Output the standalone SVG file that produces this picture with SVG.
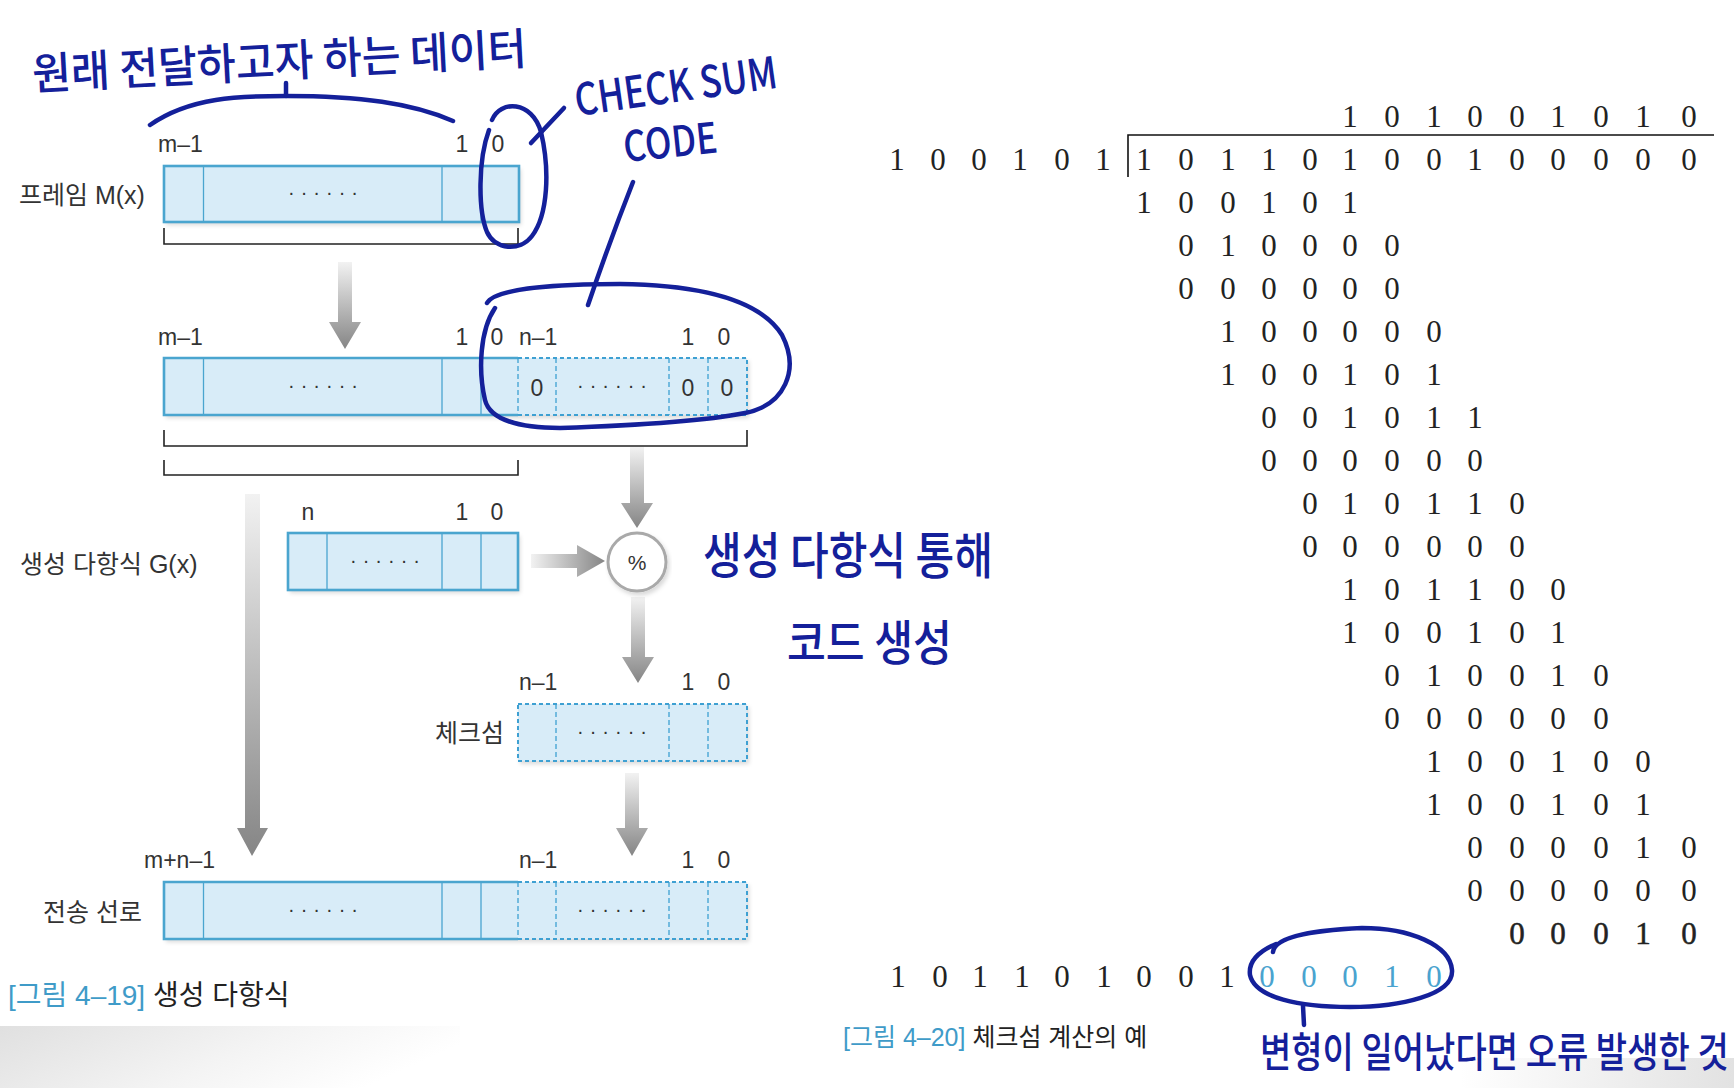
<svg xmlns="http://www.w3.org/2000/svg" width="1734" height="1088" viewBox="0 0 1734 1088">
<defs>
<style>
.bx{fill:#d8ecf8;stroke:none}
.sol{fill:none;stroke:#4aa5cf;stroke-width:2.6}
.dv{stroke:#4aa5cf;stroke-width:1.3}
.dsh{fill:none;stroke:#3ea0d2;stroke-width:2;stroke-dasharray:4 3}
.dshi{stroke:#3ea0d2;stroke-width:1.3;stroke-dasharray:5 3}
.lbl{font-family:"Liberation Sans","Noto Sans CJK KR",sans-serif;font-size:23px;fill:#333}
.kr{font-family:"Liberation Sans","Noto Sans CJK KR",sans-serif;font-size:25px;fill:#333}
.dots{font-family:"Liberation Sans",sans-serif;font-size:20px;fill:#333;letter-spacing:6px;text-anchor:middle}
.mid{text-anchor:middle}
.num{font-family:"Liberation Serif",serif;font-size:31px;fill:#222;text-anchor:middle}
.hand{font-family:"Noto Sans CJK KR",sans-serif;fill:#14209a;font-weight:500}
.ink{fill:none;stroke:#14209a;stroke-width:4.5;stroke-linecap:round;stroke-linejoin:round}
.brk{fill:none;stroke:#222;stroke-width:1.6}
.cap{font-family:"Liberation Sans","Noto Sans CJK KR",sans-serif;fill:#222}
.capb{fill:#3f9bc8}
.arr{stroke:none}
</style>
<linearGradient id="gv" x1="0" y1="0" x2="0" y2="1">
<stop offset="0" stop-color="#f2f2f2"/><stop offset="1" stop-color="#858585"/>
</linearGradient>
<linearGradient id="gh" x1="0" y1="0" x2="1" y2="0">
<stop offset="0" stop-color="#f2f2f2"/><stop offset="1" stop-color="#858585"/>
</linearGradient>
<linearGradient id="gbl" x1="0" y1="0" x2="1" y2="0.3">
<stop offset="0" stop-color="#e0e0e0"/><stop offset="0.6" stop-color="#f4f4f4"/><stop offset="1" stop-color="#ffffff"/>
</linearGradient>
<linearGradient id="gbr" x1="0" y1="0" x2="1" y2="0">
<stop offset="0" stop-color="#ffffff"/><stop offset="1" stop-color="#e2e2e2"/>
</linearGradient>
<filter id="sh" x="-5%" y="-10%" width="115%" height="140%">
<feDropShadow dx="2" dy="3" stdDeviation="2" flood-color="#000" flood-opacity="0.15"/>
</filter>
</defs>

<rect width="1734" height="1088" fill="#ffffff"/>
<rect x="0" y="1026" width="460" height="62" fill="url(#gbl)"/>
<rect x="1460" y="1058" width="274" height="30" fill="url(#gbr)"/>

<!-- connectors -->
<g id="connectors">
<path class="arr" fill="url(#gv)" d="M338,262 H352 V322 H361 L345,349 L329,322 H338 Z"/>
<path class="arr" fill="url(#gv)" d="M630,447 H644 V503 H653 L637,528 L621,503 H630 Z"/>
<path class="arr" fill="url(#gv)" d="M631,597 H645 V657 H654 L638,683 L622,657 H631 Z"/>
<path class="arr" fill="url(#gv)" d="M625,773 H639 V828 H648 L632,856 L616,828 H625 Z"/>
<path class="arr" fill="url(#gv)" d="M245,494 H260 V828 H268 L252,856 L237,828 H245 Z"/>
<path class="arr" fill="url(#gh)" d="M531,554 H577 V545 L605,561 L577,577 V568 H531 Z"/>
</g>

<!-- frame M(x) -->
<g id="frame">
<text class="kr" x="19" y="204">프레임 M(x)</text>
<text class="lbl" x="158" y="152">m–1</text>
<text class="lbl mid" x="462" y="152">1</text>
<text class="lbl mid" x="498" y="152">0</text>
<rect class="bx" x="164" y="166" width="355" height="56" filter="url(#sh)"/>
<rect class="sol" x="164" y="166" width="355" height="56"/>
<line class="dv" x1="203.5" y1="166" x2="203.5" y2="222"/>
<line class="dv" x1="442" y1="166" x2="442" y2="222"/>
<line class="dv" x1="481" y1="166" x2="481" y2="222"/>
<text class="dots" x="326" y="199">······</text>
<path class="brk" d="M164,228 V244 H518 V228"/>
</g>

<!-- shifted frame -->
<g id="shifted">
<text class="lbl" x="158" y="345">m–1</text>
<text class="lbl mid" x="462" y="345">1</text>
<text class="lbl mid" x="497" y="345">0</text>
<text class="lbl" x="519" y="345">n–1</text>
<text class="lbl mid" x="688" y="345">1</text>
<text class="lbl mid" x="724" y="345">0</text>
<rect class="bx" x="164" y="358" width="583" height="57" filter="url(#sh)"/>
<path class="sol" d="M518,358 H164 V415 H518"/>
<line class="dv" x1="203.5" y1="358" x2="203.5" y2="415"/>
<line class="dv" x1="442" y1="358" x2="442" y2="415"/>
<line class="dv" x1="481" y1="358" x2="481" y2="415"/>
<path class="dsh" d="M518,358 H747 V415 H518"/>
<line class="dshi" x1="518" y1="358" x2="518" y2="415"/>
<line class="dshi" x1="556" y1="358" x2="556" y2="415"/>
<line class="dshi" x1="669" y1="358" x2="669" y2="415"/>
<line class="dshi" x1="708" y1="358" x2="708" y2="415"/>
<text class="dots" x="326" y="392">······</text>
<text class="lbl mid" x="537" y="396">0</text>
<text class="dots" x="615" y="392">······</text>
<text class="lbl mid" x="688" y="396">0</text>
<text class="lbl mid" x="727" y="396">0</text>
<path class="brk" d="M164,430 V446 H747 V430"/>
<path class="brk" d="M164,460 V475 H518 V460"/>
</g>

<!-- generator polynomial -->
<g id="generator">
<text class="kr" x="20" y="573">생성 다항식 G(x)</text>
<text class="lbl mid" x="308" y="520">n</text>
<text class="lbl mid" x="462" y="520">1</text>
<text class="lbl mid" x="497" y="520">0</text>
<rect class="bx" x="288" y="533" width="230" height="57" filter="url(#sh)"/>
<rect class="sol" x="288" y="533" width="230" height="57"/>
<line class="dv" x1="327" y1="533" x2="327" y2="590"/>
<line class="dv" x1="442" y1="533" x2="442" y2="590"/>
<line class="dv" x1="481" y1="533" x2="481" y2="590"/>
<text class="dots" x="388" y="567">······</text>
</g>

<!-- modulo -->
<g id="modulo">
<circle cx="637" cy="562" r="29" fill="#ffffff" stroke="#a9a9a9" stroke-width="3" filter="url(#sh)"/>
<text class="lbl mid" x="637" y="570" style="font-size:21px">%</text>
</g>

<!-- checksum -->
<g id="checksum">
<text class="kr" x="435" y="742">체크섬</text>
<text class="lbl" x="519" y="690">n–1</text>
<text class="lbl mid" x="688" y="690">1</text>
<text class="lbl mid" x="724" y="690">0</text>
<rect class="bx" x="518" y="704" width="229" height="57" filter="url(#sh)"/>
<rect class="dsh" x="518" y="704" width="229" height="57"/>
<line class="dshi" x1="556" y1="704" x2="556" y2="761"/>
<line class="dshi" x1="669" y1="704" x2="669" y2="761"/>
<line class="dshi" x1="708" y1="704" x2="708" y2="761"/>
<text class="dots" x="615" y="738">······</text>
</g>

<!-- transmission -->
<g id="transmission">
<text class="kr" x="43" y="921">전송 선로</text>
<text class="lbl" x="144" y="868">m+n–1</text>
<text class="lbl" x="519" y="868">n–1</text>
<text class="lbl mid" x="688" y="868">1</text>
<text class="lbl mid" x="724" y="868">0</text>
<rect class="bx" x="164" y="882" width="583" height="57" filter="url(#sh)"/>
<path class="sol" d="M518,882 H164 V939 H518"/>
<line class="dv" x1="203.5" y1="882" x2="203.5" y2="939"/>
<line class="dv" x1="442" y1="882" x2="442" y2="939"/>
<line class="dv" x1="481" y1="882" x2="481" y2="939"/>
<path class="dsh" d="M518,882 H747 V939 H518"/>
<line class="dshi" x1="518" y1="882" x2="518" y2="939"/>
<line class="dshi" x1="556" y1="882" x2="556" y2="939"/>
<line class="dshi" x1="669" y1="882" x2="669" y2="939"/>
<line class="dshi" x1="708" y1="882" x2="708" y2="939"/>
<text class="dots" x="326" y="916">······</text>
<text class="dots" x="615" y="916">······</text>
</g>

<text class="cap" x="8" y="1005" style="font-size:28px"><tspan class="capb">[그림 4–19]</tspan> 생성 다항식</text>

<!-- long division -->
<g id="division">
<path d="M1128,177 V135 H1714" fill="none" stroke="#111" stroke-width="1.6"/>
<text class="num" x="1350 1392 1434 1475 1517 1558 1601 1643 1689" y="127">101001010</text>
<text class="num" x="897 938 979 1020 1062 1103" y="170">100101</text>
<text class="num" x="1144 1186 1228 1269 1310 1350 1392 1434 1475 1517 1558 1601 1643 1689" y="170">10110100100000</text>
<text class="num" x="1144 1186 1228 1269 1310 1350" y="213">100101</text>
<text class="num" x="1186 1228 1269 1310 1350 1392" y="256">010000</text>
<text class="num" x="1186 1228 1269 1310 1350 1392" y="299">000000</text>
<text class="num" x="1228 1269 1310 1350 1392 1434" y="342">100000</text>
<text class="num" x="1228 1269 1310 1350 1392 1434" y="385">100101</text>
<text class="num" x="1269 1310 1350 1392 1434 1475" y="428">001011</text>
<text class="num" x="1269 1310 1350 1392 1434 1475" y="471">000000</text>
<text class="num" x="1310 1350 1392 1434 1475 1517" y="514">010110</text>
<text class="num" x="1310 1350 1392 1434 1475 1517" y="557">000000</text>
<text class="num" x="1350 1392 1434 1475 1517 1558" y="600">101100</text>
<text class="num" x="1350 1392 1434 1475 1517 1558" y="643">100101</text>
<text class="num" x="1392 1434 1475 1517 1558 1601" y="686">010010</text>
<text class="num" x="1392 1434 1475 1517 1558 1601" y="729">000000</text>
<text class="num" x="1434 1475 1517 1558 1601 1643" y="772">100100</text>
<text class="num" x="1434 1475 1517 1558 1601 1643" y="815">100101</text>
<text class="num" x="1475 1517 1558 1601 1643 1689" y="858">000010</text>
<text class="num" x="1475 1517 1558 1601 1643 1689" y="901">000000</text>
<text class="num" x="1517 1558 1601 1643 1689" y="944" style="stroke:#222;stroke-width:0.5">00010</text>
<text class="num" x="898 940 980 1022 1062 1104 1144 1186 1227" y="987">101101001</text>
<text class="num" x="1267 1309 1350 1392 1434" y="987" style="fill:#4aa3cf">00010</text>
</g>

<text class="cap" x="843" y="1046" style="font-size:25px"><tspan class="capb">[그림 4–20]</tspan> 체크섬 계산의 예</text>

<!-- handwritten annotations -->
<g id="annotations">
<text class="hand" x="33" y="90" font-size="44" textLength="495" lengthAdjust="spacingAndGlyphs" transform="rotate(-3 33 90)">원래 전달하고자 하는 데이터</text>
<path class="ink" d="M150,125 C190,97 240,96 286,96 C360,96 412,103 453,121"/>
<path class="ink" d="M286,96 V83"/>
<path class="ink" d="M492,120 C500,100 532,100 541,132 C550,170 548,215 532,236 C520,252 495,250 487,232 C478,210 478,160 489,130"/>
<path class="ink" d="M531,143 L564,108"/>
<text class="hand" x="577" y="116" font-size="44" textLength="204" lengthAdjust="spacingAndGlyphs" transform="rotate(-8 577 116)">CHECK SUM</text>
<text class="hand" x="625" y="162" font-size="42" textLength="94" lengthAdjust="spacingAndGlyphs" transform="rotate(-6 625 162)">CODE</text>
<path class="ink" d="M633,182 C620,215 605,255 588,305"/>
<path class="ink" d="M487,303 C495,288 560,284 620,284 C700,285 760,300 782,335 C800,370 785,405 745,413 C700,422 620,426 560,428 C520,428 490,420 485,400 C478,370 480,330 495,308"/>
<text class="hand" x="703" y="574" font-size="50" textLength="290" lengthAdjust="spacingAndGlyphs">생성 다항식 통해</text>
<text class="hand" x="787" y="660" font-size="48" textLength="165" lengthAdjust="spacingAndGlyphs">코드 생성</text>
<path class="ink" d="M1273,952 C1275,935 1320,930 1362,928 C1410,928 1450,945 1452,970 C1454,995 1400,1007 1350,1007 C1300,1007 1255,998 1250,975 C1248,960 1262,950 1276,944"/>
<path class="ink" d="M1303,1006 L1304,1025"/>
<text class="hand" x="0" y="0" font-size="41" transform="translate(1260 1067) scale(0.83 1)">변형이 일어났다면 오류 발생한 것</text>
</g>
</svg>
